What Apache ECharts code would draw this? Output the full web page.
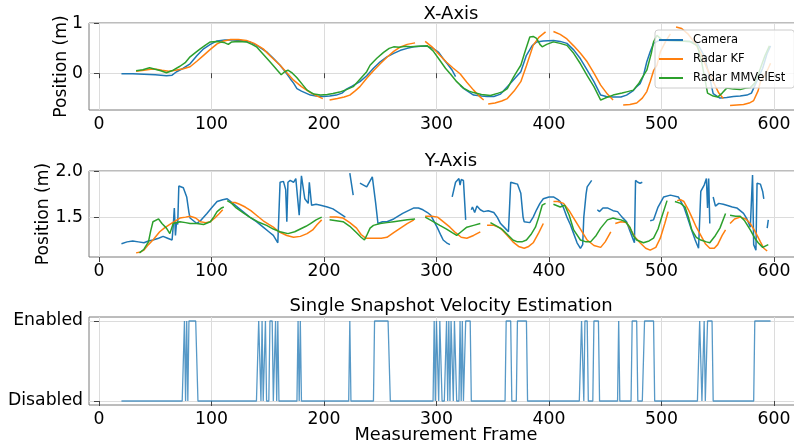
<!DOCTYPE html>
<html>
<head>
<meta charset="utf-8">
<script src="https://cdn.jsdelivr.net/npm/echarts@6/dist/echarts.min.js"></script>
<style>
  html, body { margin: 0; padding: 0; background: #fff; }
  #chart { width: 794px; height: 447px; }
</style>
</head>
<body>
<div id="chart"></div>
<script>
// Frame ticks shared by the three panels
const frameTicks = [0, 100, 200, 300, 400, 500, 600];
const xPosTicks = [0, 1];
const yPosTicks = [1.5, 2.0];
const snapTicks = [0, 1];
const snapTickLabels = ['Disabled', 'Enabled'];
const seriesNames = ['Camera', 'Radar KF', 'Radar MMVelEst'];

// X position [frame, metres]; null marks a break in the track
const xCamera = [[20,-0.01],[30,-0.01],[40,-0.02],[50,-0.03],[60,-0.05],[65,-0.04],[69,0.03],[75,0.1],[81,0.19],[87,0.35],[93,0.49],[99,0.58],[105,0.65],[112,0.67],[119,0.67],[126,0.66],[134,0.63],[141,0.55],[149,0.43],[155,0.3],[161,0.16],[166,0.02],[170,-0.11],[173,-0.2],[176,-0.31],[180,-0.36],[184,-0.4],[188,-0.44],[193,-0.46],[199,-0.47],[205,-0.46],[211,-0.44],[216,-0.4],[220,-0.32],[225,-0.26],[232,-0.17],[238,-0.05],[244,0.1],[250,0.23],[256,0.33],[262,0.4],[268,0.46],[274,0.5],[280,0.53],[286,0.54],[292,0.54],[297,0.5],[302,0.42],[306,0.29],[310,0.18],[314,0.06],[317,-0.07],[318,null],[321,-0.24],[325,-0.32],[329,-0.38],[333,-0.44],[340,-0.46],[345,-0.47],[351,-0.47],[357,-0.42],[363,-0.27],[369,-0.12],[375,0.03],[380,0.36],[385,0.55],[389,0.63],[395,0.65],[404,0.66],[410,0.64],[416,0.6],[422,0.47],[428,0.29],[434,0.06],[440,-0.17],[446,-0.44],[451,-0.47],[457,-0.48],[464,-0.48],[469,-0.44],[475,-0.35],[478,-0.27],[481,-0.21],[484,-0.05],[487,0.23],[490,0.43],[493,0.6],[498,0.66],[505,0.66],[515,0.65],[525,0.64],[532,0.6],[538,0.35],[542,0.0],[546,-0.41],[552,-0.5],[558,-0.49],[564,-0.47],[570,-0.46],[576,-0.44],[580,-0.4],[582,-0.3],[586,-0.1],[590,0.1],[594,0.4],[597,0.55]];

const xRadarKF = [[33,0.04],[40,0.06],[46,0.08],[51,0.08],[56,0.06],[62,0.04],[68,0.06],[75,0.09],[81,0.13],[87,0.24],[93,0.36],[99,0.48],[105,0.59],[111,0.65],[117,0.68],[124,0.68],[131,0.66],[138,0.6],[146,0.49],[153,0.33],[161,0.16],[167,0.01],[173,-0.14],[180,-0.27],[188,-0.39],[194,-0.46],[199,-0.51],[200,null],[205,-0.54],[212,-0.51],[218,-0.48],[223,-0.44],[228,-0.35],[232,-0.27],[238,-0.1],[244,0.05],[250,0.19],[256,0.32],[262,0.44],[268,0.53],[274,0.58],[281,0.61],[285,null],[290,0.64],[296,0.53],[303,0.36],[309,0.22],[315,0.1],[321,-0.01],[327,-0.18],[333,-0.34],[338,-0.46],[342,-0.54],[344,null],[346,-0.62],[352,-0.6],[358,-0.56],[363,-0.51],[369,-0.36],[375,-0.17],[380,0.15],[386,0.56],[391,0.72],[397,0.83],[400,null],[404,0.84],[410,0.78],[416,0.69],[422,0.55],[428,0.4],[434,0.23],[440,0.0],[446,-0.24],[452,-0.42],[457,-0.54],[461,null],[466,-0.64],[472,-0.63],[478,-0.6],[483,-0.5],[487,-0.37],[490,-0.17],[493,0.05],[496,0.16],[499,0.43],[504,0.65],[508,0.79],[510,null],[513,0.93],[518,0.9],[524,0.78],[530,0.6],[535,0.4],[540,0.12],[546,-0.17],[551,-0.4],[555,-0.51],[558,null],[561,-0.65],[567,-0.64],[573,-0.63],[578,-0.6],[582,-0.55],[586,-0.35],[588,-0.17],[592,-0.04],[595,0.1],[597,0.2]];

const xRadarMM = [[33,0.05],[39,0.07],[45,0.11],[50,0.08],[55,0.05],[60,0.01],[66,0.06],[72,0.14],[77,0.22],[81,0.33],[86,0.42],[90,0.49],[95,0.57],[99,0.63],[105,0.64],[111,0.62],[115,0.58],[118,0.63],[124,0.64],[131,0.63],[136,0.58],[140,0.53],[146,0.38],[152,0.23],[157,0.1],[162,-0.03],[165,0.03],[168,0.06],[172,0.0],[176,-0.09],[181,-0.23],[185,-0.34],[191,-0.42],[197,-0.44],[203,-0.43],[208,-0.41],[214,-0.38],[220,-0.33],[226,-0.27],[232,-0.12],[238,0.03],[241,0.16],[247,0.3],[253,0.42],[258,0.5],[262,0.53],[267,0.52],[272,0.54],[277,0.53],[284,0.54],[292,0.55],[297,0.45],[303,0.26],[308,0.1],[313,-0.03],[318,-0.17],[324,-0.3],[329,-0.36],[333,-0.39],[340,-0.43],[348,-0.45],[355,-0.4],[359,-0.37],[363,-0.31],[368,-0.1],[372,0.05],[375,0.16],[379,0.45],[383,0.73],[386,0.74],[389,0.7],[392,0.58],[394,0.53],[398,0.58],[404,0.63],[410,0.6],[416,0.56],[422,0.4],[428,0.19],[434,-0.05],[440,-0.27],[446,-0.54],[450,-0.5],[457,-0.44],[465,-0.4],[470,-0.37],[475,-0.34],[480,-0.2],[484,-0.05],[487,0.06],[491,0.4],[493,0.63],[496,0.76],[500,0.68],[507,0.66],[515,0.65],[525,0.64],[532,0.55],[536,0.2],[541,-0.4],[546,-0.46],[550,-0.48],[554,-0.4],[558,-0.3],[564,-0.32],[570,-0.33],[575,-0.3],[579,-0.29],[583,-0.2],[588,0.1],[592,0.35],[596,0.55]];

// Y position [frame, metres]
const yCamera = [[20,1.21],[25,1.23],[30,1.24],[35,1.23],[40,1.22],[44,1.24],[48,1.25],[53,1.27],[57,1.29],[61,1.27],[65,1.25],[66,1.4],[67,1.6],[68,1.3],[69,1.45],[70,1.42],[71,1.84],[75,1.82],[78,1.72],[80,1.55],[81,1.49],[84,1.46],[87,1.43],[91,1.47],[96,1.54],[100,1.6],[105,1.67],[110,1.69],[114,1.7],[118,1.66],[122,1.62],[128,1.56],[134,1.5],[140,1.45],[146,1.39],[151,1.34],[155,1.3],[159,1.22],[160,1.2],[161,1.88],[164,1.89],[166,1.8],[167,1.45],[168,1.88],[170,1.9],[173,1.88],[175,1.92],[178,1.52],[180,1.95],[183,1.7],[186,1.65],[187,1.88],[189,1.63],[193,1.64],[197,1.63],[203,1.61],[208,1.59],[213,1.55],[219,1.5],[220,null],[223,1.98],[226,1.74],[227,null],[232,1.87],[238,1.83],[243,1.94],[246,1.65],[248,1.43],[252,1.45],[256,1.45],[262,1.48],[266,1.51],[270,1.54],[275,1.57],[280,1.6],[284,1.6],[288,1.58],[292,1.55],[295,1.52],[298,1.45],[301,1.38],[304,1.3],[306,1.25],[309,1.22],[312,1.2],[313,null],[314,1.72],[317,1.88],[320,1.92],[321,1.85],[322,1.91],[324,1.9],[326,1.47],[327,null],[331,1.58],[332,1.61],[334,1.55],[336,1.62],[339,1.58],[342,1.56],[346,1.57],[351,1.55],[354,1.5],[357,1.43],[361,1.38],[364,1.34],[365,1.35],[366,1.88],[369,1.87],[372,1.86],[375,1.76],[377,1.5],[378,1.45],[383,1.44],[386,1.5],[389,1.58],[392,1.65],[395,1.7],[400,1.72],[404,1.72],[408,1.69],[410,1.67],[413,1.6],[416,1.5],[419,1.42],[422,1.32],[425,1.22],[428,1.16],[430,1.2],[431,1.5],[433,1.75],[434,1.83],[438,1.9],[440,null],[443,1.58],[445,1.56],[448,1.6],[452,1.6],[457,1.57],[461,1.56],[465,1.5],[469,1.45],[472,1.35],[475,1.25],[476,1.22],[477,1.9],[479,1.88],[481,1.87],[483,1.88],[484,null],[487,1.66],[488,null],[490,1.46],[493,1.47],[497,1.61],[502,1.72],[508,1.74],[515,1.72],[520,1.61],[523,1.5],[526,1.39],[530,1.25],[533,1.16],[535,1.78],[538,1.85],[540,1.92],[541,1.6],[542,1.92],[543,1.43],[544,null],[546,1.72],[548,1.62],[551,1.65],[555,1.64],[558,1.63],[563,1.61],[567,1.6],[573,1.54],[576,1.48],[579,1.39],[580,1.4],[581,1.96],[582,1.2],[584,1.14],[585,1.87],[588,1.86],[590,1.78],[591,1.7],[592,null],[594,1.38],[595,1.47]];

const yRadarKF = [[33,1.11],[37,1.12],[40,1.14],[44,1.2],[48,1.25],[54,1.34],[58,1.38],[63,1.42],[68,1.46],[72,1.49],[77,1.5],[81,1.51],[86,1.49],[90,1.45],[95,1.44],[99,1.45],[103,1.49],[107,1.54],[110,1.58],[113,null],[117,1.66],[121,1.66],[125,1.64],[130,1.61],[135,1.57],[140,1.52],[146,1.46],[151,1.42],[155,1.39],[160,1.34],[167,1.3],[173,1.28],[179,1.29],[185,1.32],[190,1.36],[194,1.42],[198,1.47],[201,null],[205,1.5],[211,1.5],[217,1.49],[223,1.44],[229,1.38],[233,1.31],[237,1.27],[241,1.27],[246,1.27],[251,1.27],[256,1.28],[262,1.33],[268,1.38],[274,1.43],[280,1.47],[285,null],[290,1.51],[296,1.51],[301,1.5],[306,1.45],[312,1.39],[317,1.33],[322,1.28],[327,1.27],[333,1.3],[339,1.34],[342,null],[345,1.41],[351,1.41],[357,1.38],[363,1.3],[368,1.23],[373,1.18],[378,1.16],[382,1.18],[386,1.22],[391,1.33],[395,1.43],[399,null],[404,1.67],[408,1.67],[413,1.65],[418,1.57],[422,1.49],[428,1.37],[434,1.25],[440,1.19],[446,1.17],[450,1.23],[455,1.34],[457,null],[459,1.43],[464,1.45],[469,1.44],[472,1.38],[476,1.29],[481,1.22],[486,1.16],[490,1.14],[495,1.17],[499,1.27],[503,1.43],[506,1.56],[509,null],[514,1.68],[517,1.69],[520,1.67],[524,1.58],[527,1.5],[531,1.39],[535,1.3],[539,1.21],[543,1.16],[547,1.16],[550,1.2],[554,1.3],[557,1.36],[559,null],[561,1.43],[565,1.48],[570,1.5],[575,1.48],[579,1.43],[583,1.35],[588,1.23],[591,1.16],[594,1.13]];

const yRadarMM = [[36,1.11],[40,1.15],[44,1.23],[46,1.35],[48,1.45],[53,1.48],[56,1.43],[60,1.38],[63,1.32],[66,1.43],[72,1.45],[77,1.44],[81,1.43],[87,1.43],[93,1.42],[99,1.45],[102,1.5],[105,1.56],[109,1.6],[111,1.61],[112,null],[114,1.68],[118,1.65],[122,1.6],[128,1.55],[134,1.5],[141,1.45],[149,1.41],[155,1.37],[161,1.34],[168,1.32],[174,1.34],[179,1.37],[184,1.4],[188,1.43],[193,1.47],[198,1.5],[201,null],[205,1.47],[211,1.46],[217,1.45],[223,1.4],[229,1.33],[233,1.28],[236,1.25],[238,1.3],[241,1.38],[244,1.41],[250,1.43],[256,1.44],[262,1.45],[268,1.46],[274,1.47],[281,1.48],[285,null],[290,1.5],[296,1.46],[303,1.41],[309,1.37],[314,1.33],[318,1.3],[322,1.34],[327,1.39],[333,1.41],[339,1.43],[343,null],[348,1.44],[354,1.4],[359,1.36],[364,1.3],[368,1.25],[372,1.23],[376,1.23],[380,1.25],[384,1.31],[388,1.39],[391,1.5],[394,1.63],[397,1.65],[399,null],[404,1.64],[410,1.61],[414,1.63],[418,1.52],[422,1.36],[428,1.25],[433,1.23],[437,1.23],[442,1.3],[446,1.38],[452,1.47],[457,1.49],[460,1.48],[464,1.47],[468,1.45],[472,1.39],[475,1.3],[478,1.25],[484,1.22],[489,1.24],[493,1.27],[497,1.37],[500,1.49],[505,1.68],[508,null],[512,1.67],[517,1.65],[521,1.61],[524,1.5],[527,1.36],[531,1.28],[535,1.25],[540,1.23],[543,1.22],[548,1.3],[552,1.38],[557,1.54],[559,null],[561,1.52],[566,1.51],[570,1.51],[574,1.46],[579,1.36],[583,1.27],[586,1.22],[590,1.17],[595,1.2]];

// Frames where single-snapshot velocity estimation was enabled [first, last]
const snapshotFirstFrame = 20;
const snapshotLastFrame = 597;
const snapshotEnabled = [[76,76],[78,78],[80,87],[142,143],[145,145],[148,148],[152,154],[157,157],[159,159],[177,177],[179,179],[223,223],[245,258],[298,298],[300,301],[303,304],[309,309],[311,311],[313,314],[316,317],[321,321],[323,323],[326,330],[362,366],[372,380],[429,430],[432,434],[440,444],[462,462],[474,478],[485,493],[534,535],[538,538],[541,545],[583,597]];

const snapshotState = [];
for (let f = snapshotFirstFrame; f <= snapshotLastFrame; f++) {
  const on = snapshotEnabled.some(r => f >= r[0] && f <= r[1]);
  snapshotState.push([f, on ? 1 : 0]);
}

const FONT = 'DejaVu Sans';
const TICK_SIZE = 17.3;
const colors = ['#1f77b4', '#ff7f0e', '#2ca02c'];
const gridLine = { show: true, lineStyle: { color: '#dcdcdc', width: 1 } };

function frameAxis(gridIndex, withName) {
  return {
    type: 'value', gridIndex: gridIndex, min: -8.85, max: 625.85,
    axisLine: { show: false },
    axisTick: { show: true, length: 5, customValues: frameTicks, lineStyle: { color: '#444' } },
    axisLabel: { customValues: frameTicks, fontFamily: FONT, fontSize: TICK_SIZE, color: '#000', margin: 6 },
    splitLine: gridLine,
    name: withName ? 'Measurement Frame' : '',
    nameLocation: 'middle', nameGap: 21, nameMoveOverlap: false,
    nameTextStyle: { fontFamily: FONT, fontSize: 17.8, color: '#000' }
  };
}

function valueAxis(gridIndex, min, max, ticks, name, nameGap, fmt) {
  return {
    type: 'value', gridIndex: gridIndex, min: min, max: max,
    axisLine: { show: false },
    axisTick: { show: true, length: 5, customValues: ticks, lineStyle: { color: '#444' } },
    axisLabel: { customValues: ticks, fontFamily: FONT, fontSize: TICK_SIZE, color: '#000', margin: 6, formatter: fmt },
    splitLine: gridLine,
    name: name, nameLocation: 'middle', nameGap: nameGap, nameMoveOverlap: false,
    nameTextStyle: { fontFamily: FONT, fontSize: 17.2, color: '#000' }
  };
}

function track(name, data, colorIdx, xi, yi) {
  return {
    name: name, type: 'line', data: data, xAxisIndex: xi, yAxisIndex: yi,
    symbol: 'none', showSymbol: false, connectNulls: false,
    lineStyle: { color: colors[colorIdx], width: 1.5 },
    itemStyle: { color: colors[colorIdx] }
  };
}

const titleStyle = { fontFamily: FONT, fontSize: 18, fontWeight: 'normal', color: '#000' };
const gridBox = { show: true, borderColor: '#7a7a7a', borderWidth: 1, backgroundColor: 'transparent', containLabel: false, outerBoundsMode: 'none' };

const chart = echarts.init(document.getElementById('chart'), null, { renderer: 'canvas' });
chart.setOption({
  animation: false,
  backgroundColor: '#fff',
  title: [
    { text: 'X-Axis', left: 446, top: 0, textAlign: 'center', textStyle: titleStyle },
    { text: 'Y-Axis', left: 446, top: 147, textAlign: 'center', textStyle: titleStyle },
    { text: 'Single Snapshot Velocity Estimation', left: 446, top: 292, textAlign: 'center', textStyle: titleStyle }
  ],
  legend: {
    data: seriesNames.map(n => ({ name: n, icon: 'rect' })),
    orient: 'vertical', left: 655, top: 30,
    itemWidth: 24, itemHeight: 2, itemGap: 5,
    padding: [3, 9, 3, 4],
    backgroundColor: 'rgba(255,255,255,0.8)', borderColor: '#cccccc', borderWidth: 1, borderRadius: 3,
    textStyle: { fontFamily: FONT, fontSize: 11.5, color: '#000', padding: [0, 0, 0, 5], lineHeight: 14 },
    selectedMode: false
  },
  grid: [
    Object.assign({ left: 89, right: -9, top: 23, height: 87 }, gridBox),
    Object.assign({ left: 89, right: -9, top: 171, height: 86 }, gridBox),
    Object.assign({ left: 89, right: -9, top: 317, height: 88 }, gridBox)
  ],
  xAxis: [frameAxis(0, false), frameAxis(1, false), frameAxis(2, true)],
  yAxis: [
    valueAxis(0, -0.74, 1.01, xPosTicks, 'Position (m)', 19, v => String(v)),
    valueAxis(1, 1.065, 2.003, yPosTicks, 'Position (m)', 37, v => v.toFixed(1)),
    valueAxis(2, -0.05, 1.05, snapTicks, '', 0, v => snapTickLabels[v])
  ],
  series: [
    track('Camera', xCamera, 0, 0, 0),
    track('Radar KF', xRadarKF, 1, 0, 0),
    track('Radar MMVelEst', xRadarMM, 2, 0, 0),
    track('Camera', yCamera, 0, 1, 1),
    track('Radar KF', yRadarKF, 1, 1, 1),
    track('Radar MMVelEst', yRadarMM, 2, 1, 1),
    {
      name: 'Snapshot', type: 'line', data: snapshotState, xAxisIndex: 2, yAxisIndex: 2,
      symbol: 'none', showSymbol: false,
      lineStyle: { color: '#1f77b4', width: 1.3, opacity: 0.75 }
    }
  ]
});
</script>
</body>
</html>
